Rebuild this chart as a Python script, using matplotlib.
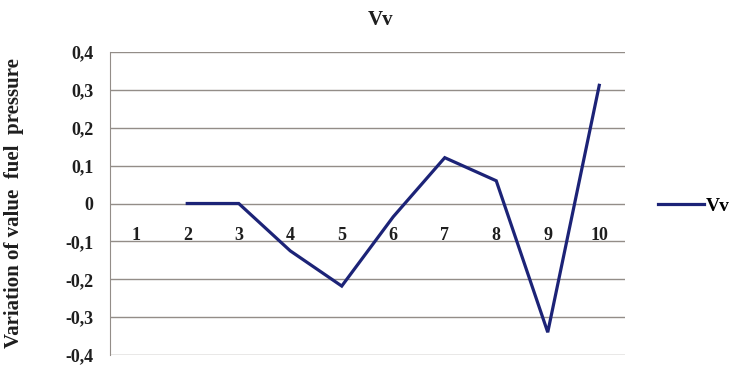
import numpy as np
import matplotlib.pyplot as plt
from matplotlib.ticker import FuncFormatter

# Vv series: variation of the fuel pressure value per step
steps = [1, 2, 3, 4, 5, 6, 7, 8, 9, 10]
vv = [np.nan, 0.0, 0.0, -0.125, -0.218, -0.035, 0.121, 0.06, -0.34, 0.312]
y_ticks = [-0.4, -0.3, -0.2, -0.1, 0.0, 0.1, 0.2, 0.3, 0.4]

serif = ['Liberation Serif', 'DejaVu Serif']
line_color = '#1c2377'
grid_color = '#938d88'
text_color = '#1e1e1e'

fig = plt.figure(figsize=(7.3, 3.68), dpi=100)
ax = fig.add_axes([110 / 730, 13 / 368, 515 / 730, 303 / 368])

x = np.arange(len(steps))
ax.plot(x, vv, color=line_color, lw=2.3, label='Vv', solid_joinstyle='miter')

ax.set_xlim(-0.5, len(steps) - 0.5)
ax.set_ylim(-0.4, 0.4)
ax.set_yticks(y_ticks)
ax.yaxis.set_major_formatter(FuncFormatter(lambda v, _: ('%g' % round(v, 1)).replace('.', ',')))
ax.grid(axis='y', color=grid_color, lw=1.0)
ax.set_axisbelow(True)

# category labels sit along the zero line
ax.spines['bottom'].set_position(('data', 0))
ax.spines['bottom'].set_visible(False)
ax.spines['top'].set_visible(False)
ax.spines['right'].set_visible(False)
ax.spines['left'].set_color(grid_color)
ax.set_xticks(x)
ax.set_xticklabels([str(s) for s in steps])
ax.tick_params(axis='x', length=0, pad=17)
ax.tick_params(axis='y', length=0, pad=12)
for lbl in ax.get_xticklabels() + ax.get_yticklabels():
    lbl.set_fontfamily(serif)
    lbl.set_fontweight('bold')
    lbl.set_fontsize(13)
    lbl.set_color(text_color)

ax.set_ylabel('Variation of value  fuel  pressure', fontfamily=serif,
              fontweight='bold', fontsize=15, color=text_color)
ax.yaxis.set_label_coords(-86 / 515, 0.5)

fig.text(381 / 730, 1 - 20 / 368, 'Vv', fontfamily=serif, fontweight='bold',
         fontsize=15, ha='center', va='center', color=text_color)

fig.legend(loc='center left', bbox_to_anchor=(640 / 730, 1 - 206 / 368),
           frameon=False, handlelength=2.4, handletextpad=0.1,
           prop={'family': serif, 'weight': 'bold', 'size': 14})

fig.savefig('out.png', dpi=100)
